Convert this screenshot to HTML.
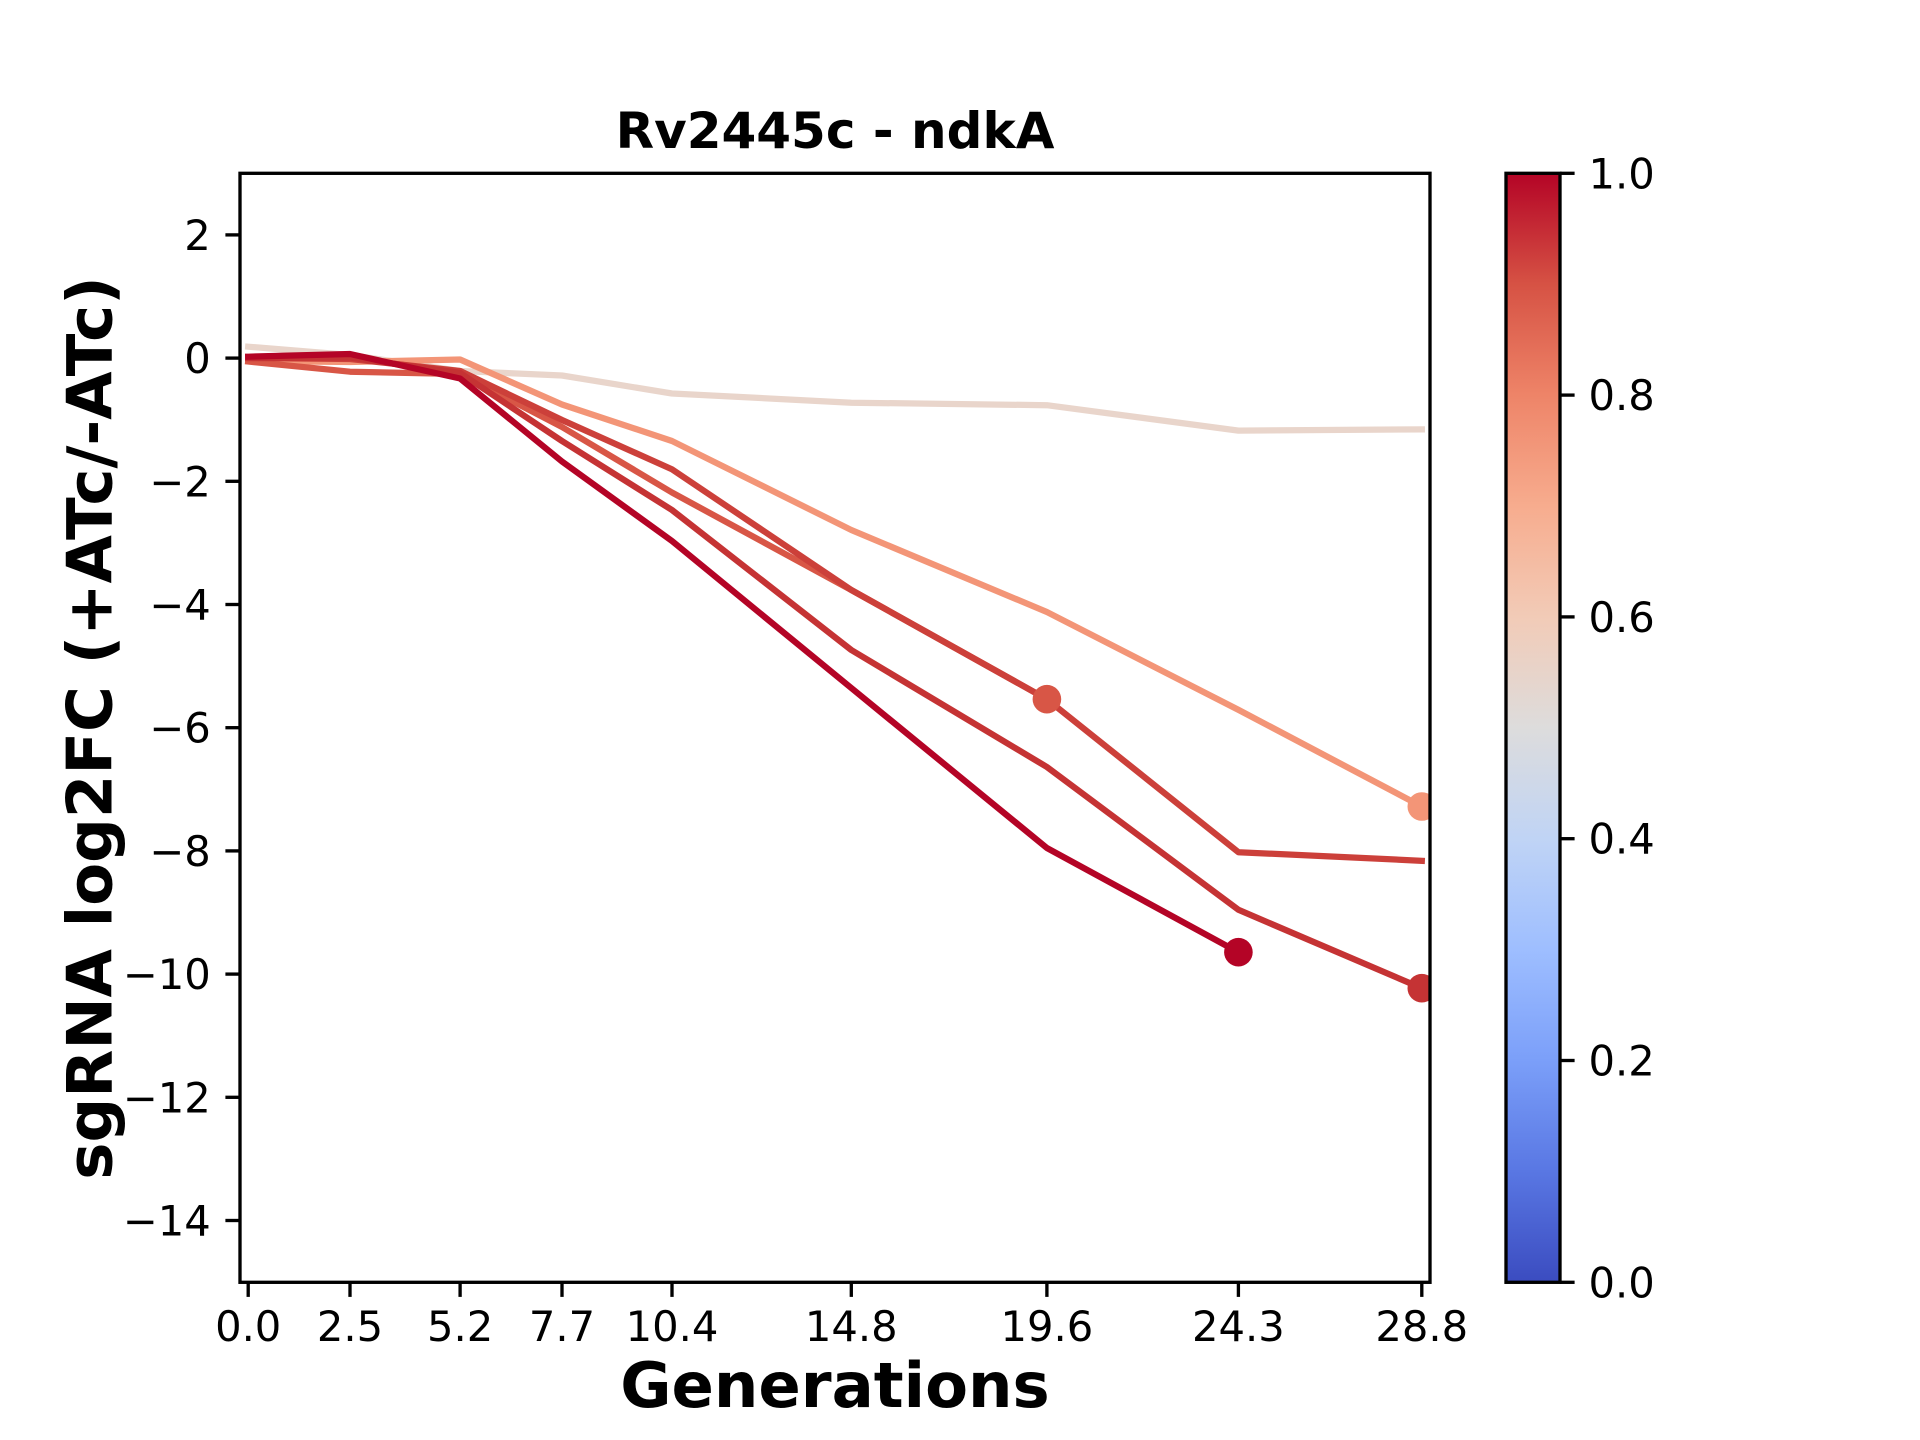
<!DOCTYPE html>
<html>
<head>
<meta charset="utf-8">
<style>
  html, body { margin: 0; padding: 0; background: #ffffff; }
  svg { display: block; }
  text { font-family: "DejaVu Sans", "Liberation Sans", sans-serif; fill: #000; }
</style>
</head>
<body>
<svg width="1920" height="1440" viewBox="0 0 1920 1440" xmlns="http://www.w3.org/2000/svg">
  <defs>
    <linearGradient id="cw" x1="0" y1="1" x2="0" y2="0">
      <stop offset="0" stop-color="#3b4cc0"/>
      <stop offset="0.1" stop-color="#5977e3"/>
      <stop offset="0.2" stop-color="#7b9ff9"/>
      <stop offset="0.3" stop-color="#9ebeff"/>
      <stop offset="0.4" stop-color="#c0d4f5"/>
      <stop offset="0.5" stop-color="#dddcdc"/>
      <stop offset="0.6" stop-color="#f2cbb7"/>
      <stop offset="0.7" stop-color="#f7ac8e"/>
      <stop offset="0.8" stop-color="#ee8468"/>
      <stop offset="0.9" stop-color="#d65244"/>
      <stop offset="1" stop-color="#b40426"/>
    </linearGradient>
    <clipPath id="ax">
      <rect x="240" y="173.3" width="1190" height="1109"/>
    </clipPath>
  </defs>

  <rect x="0" y="0" width="1920" height="1440" fill="#ffffff"/>

  <!-- Title -->
  <text x="835" y="148" font-size="50" font-weight="bold" text-anchor="middle">Rv2445c - ndkA</text>

  <!-- Data -->
  <g clip-path="url(#ax)" fill="none" stroke-width="6.25" stroke-linejoin="round" stroke-linecap="square">
    <polyline stroke="#e9d5cb" points="248.2,346.7 350,355 460.1,371 562,375.5 672,393.5 851.3,402.7 1046.9,405.2 1238.4,430.6 1421.8,429.4"/>
    <polyline stroke="#f39577" points="248.2,361 350,362 460.1,359.5 562,404.5 672,441 851.3,530 1046.9,612 1238.4,709.8 1421.8,806.5"/>
    <polyline stroke="#d85646" points="248.2,361.5 350,371.7 460.1,374 562,427 672,492.5 851.3,590 1046.9,699.2"/>
    <polyline stroke="#cc403a" points="248.2,358 350,359 460.1,371 562,420 672,469.3 851.3,590 1046.9,699.2 1238.4,852.2 1421.8,860.8"/>
    <polyline stroke="#c53334" points="248.2,358 350,357.5 460.1,373 562,441 672,510 851.3,650 1046.9,767 1238.4,909.8 1421.8,988.2"/>
    <polyline stroke="#b40426" points="248.2,356.7 350,354 460.1,378.5 562,461.5 672,541 851.3,688 1046.9,848 1238.4,952.2"/>
    <circle cx="1421.8" cy="806.5" r="14.3" fill="#f39577" stroke="none"/>
    <circle cx="1046.9" cy="699.2" r="14.3" fill="#d85646" stroke="none"/>
    <circle cx="1421.8" cy="988.2" r="14.3" fill="#c53334" stroke="none"/>
    <circle cx="1238.4" cy="952.2" r="14.3" fill="#b40426" stroke="none"/>
  </g>

  <!-- Axes frame -->
  <rect x="240" y="173.3" width="1190" height="1109" fill="none" stroke="#000" stroke-width="3.33"/>

  <!-- Y ticks -->
  <g stroke="#000" stroke-width="3.33">
    <line x1="225.4" y1="234.9" x2="240" y2="234.9"/>
    <line x1="225.4" y1="358.1" x2="240" y2="358.1"/>
    <line x1="225.4" y1="481.3" x2="240" y2="481.3"/>
    <line x1="225.4" y1="604.5" x2="240" y2="604.5"/>
    <line x1="225.4" y1="727.7" x2="240" y2="727.7"/>
    <line x1="225.4" y1="850.9" x2="240" y2="850.9"/>
    <line x1="225.4" y1="974.1" x2="240" y2="974.1"/>
    <line x1="225.4" y1="1097.3" x2="240" y2="1097.3"/>
    <line x1="225.4" y1="1220.5" x2="240" y2="1220.5"/>
  </g>
  <g font-size="41.67" text-anchor="end">
    <text x="210.8" y="249.9">2</text>
    <text x="210.8" y="373.1">0</text>
    <text x="210.8" y="496.3">−2</text>
    <text x="210.8" y="619.5">−4</text>
    <text x="210.8" y="742.7">−6</text>
    <text x="210.8" y="865.9">−8</text>
    <text x="210.8" y="989.1">−10</text>
    <text x="210.8" y="1112.3">−12</text>
    <text x="210.8" y="1235.5">−14</text>
  </g>

  <!-- X ticks -->
  <g stroke="#000" stroke-width="3.33">
    <line x1="248.2" y1="1282.3" x2="248.2" y2="1296.9"/>
    <line x1="350" y1="1282.3" x2="350" y2="1296.9"/>
    <line x1="460.1" y1="1282.3" x2="460.1" y2="1296.9"/>
    <line x1="562" y1="1282.3" x2="562" y2="1296.9"/>
    <line x1="672" y1="1282.3" x2="672" y2="1296.9"/>
    <line x1="851.3" y1="1282.3" x2="851.3" y2="1296.9"/>
    <line x1="1046.9" y1="1282.3" x2="1046.9" y2="1296.9"/>
    <line x1="1238.4" y1="1282.3" x2="1238.4" y2="1296.9"/>
    <line x1="1421.8" y1="1282.3" x2="1421.8" y2="1296.9"/>
  </g>
  <g font-size="41.67" text-anchor="middle">
    <text x="248.2" y="1341">0.0</text>
    <text x="350" y="1341">2.5</text>
    <text x="460.1" y="1341">5.2</text>
    <text x="562" y="1341">7.7</text>
    <text x="672" y="1341">10.4</text>
    <text x="851.3" y="1341">14.8</text>
    <text x="1046.9" y="1341">19.6</text>
    <text x="1238.4" y="1341">24.3</text>
    <text x="1421.8" y="1341">28.8</text>
  </g>

  <!-- Axis labels -->
  <text x="835" y="1407" font-size="62.5" font-weight="bold" text-anchor="middle">Generations</text>
  <text transform="translate(111.5,728) rotate(-90)" font-size="62.5" font-weight="bold" text-anchor="middle">sgRNA log2FC (+ATc/-ATc)</text>

  <!-- Colorbar -->
  <rect x="1506" y="173.3" width="54" height="1109" fill="url(#cw)"/>
  <rect x="1506" y="173.3" width="54" height="1109" fill="none" stroke="#000" stroke-width="3.33"/>
  <g stroke="#000" stroke-width="3.33">
    <line x1="1560" y1="1282.3" x2="1574.6" y2="1282.3"/>
    <line x1="1560" y1="1060.5" x2="1574.6" y2="1060.5"/>
    <line x1="1560" y1="838.7" x2="1574.6" y2="838.7"/>
    <line x1="1560" y1="616.9" x2="1574.6" y2="616.9"/>
    <line x1="1560" y1="395.1" x2="1574.6" y2="395.1"/>
    <line x1="1560" y1="173.3" x2="1574.6" y2="173.3"/>
  </g>
  <g font-size="41.67" text-anchor="start">
    <text x="1588.5" y="1297.3">0.0</text>
    <text x="1588.5" y="1075.5">0.2</text>
    <text x="1588.5" y="853.7">0.4</text>
    <text x="1588.5" y="631.9">0.6</text>
    <text x="1588.5" y="410.1">0.8</text>
    <text x="1588.5" y="188.3">1.0</text>
  </g>
</svg>
</body>
</html>
